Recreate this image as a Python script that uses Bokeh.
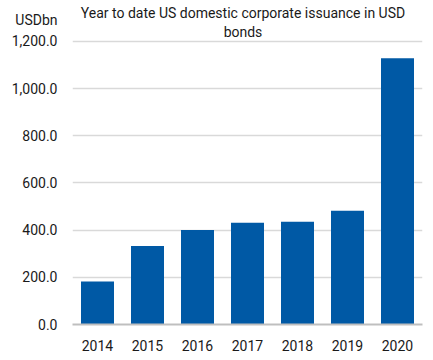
from bokeh.plotting import figure
from bokeh.models import Label, FixedTicker, NumeralTickFormatter, ColumnDataSource
from bokeh.embed import file_html
from bokeh.resources import INLINE

years = ["2014", "2015", "2016", "2017", "2018", "2019", "2020"]
issuance = [182, 333, 400, 431, 435, 482, 1129]
y_ticks = [0, 200, 400, 600, 800, 1000, 1200]
title_lines = ["Year to date US domestic corporate issuance in USD", "bonds"]
unit_label = "USDbn"

FONT = "Roboto"
TXT = "#1a1a1a"
FS = "14px"

# layout (pixels)
W, H = 425, 353
LEFT, RIGHT, BOTTOM = 72, 3, 28
TOP_GRID = 41          # pixel row of the 1200 gridline
frame_h = H - BOTTOM
units_per_px = 1200 / (frame_h - TOP_GRID)
y_end = 1200 + TOP_GRID * units_per_px
unit_tick = 1200 + (TOP_GRID - 20) * units_per_px

src = ColumnDataSource(data=dict(year=years, value=issuance))

p = figure(x_range=years, y_range=(0, y_end), width=W, height=H,
           output_backend="svg", toolbar_location=None, title=None,
           min_border_left=LEFT, min_border_right=RIGHT, min_border_top=0, min_border_bottom=BOTTOM)
p.x_range.range_padding = 0
p.outline_line_color = None
p.background_fill_color = "white"
p.border_fill_color = "white"

p.vbar(x="year", top="value", width=0.66, source=src, fill_color="#0059A5", line_color=None)

p.xgrid.grid_line_color = None
p.ygrid.ticker = FixedTicker(ticks=y_ticks)
p.ygrid.grid_line_color = "#d9d9d9"
p.ygrid.grid_line_width = 1.5
p.yaxis.ticker = FixedTicker(ticks=y_ticks + [unit_tick])
p.yaxis.formatter = NumeralTickFormatter(format="0,0.0")
p.yaxis.major_label_overrides = {unit_tick: unit_label}
p.yaxis.axis_line_color = None
p.yaxis.major_tick_line_color = None
p.yaxis.minor_tick_line_color = None
p.yaxis.major_tick_out = 0
p.yaxis.minor_tick_out = 0
p.yaxis.major_label_standoff = 15
p.xaxis.axis_line_color = "#bfbfbf"
p.xaxis.axis_line_width = 2
p.xaxis.major_tick_line_color = None
p.xaxis.minor_tick_line_color = None
p.xaxis.major_label_standoff = 9
for ax in (p.xaxis, p.yaxis):
    ax.major_label_text_font = FONT
    ax.major_label_text_font_size = FS
    ax.major_label_text_color = TXT

for txt, yy in zip(title_lines, [frame_h - 13.5, frame_h - 32]):
    p.add_layout(Label(x=170.5, y=yy, x_units="screen", y_units="screen", text=txt,
                       text_align="center", text_baseline="middle", text_font=FONT,
                       text_font_size=FS, text_color=TXT))

open("out.html", "w").write(file_html(p, INLINE))
